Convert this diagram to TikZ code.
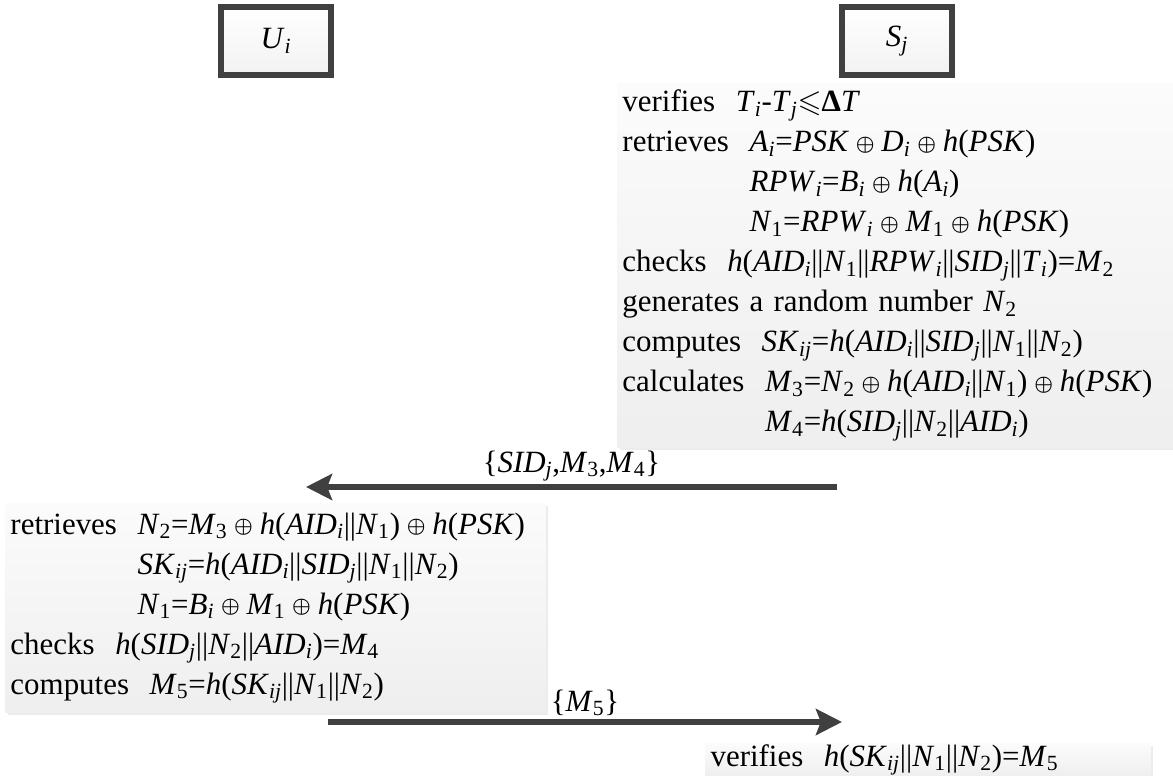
\documentclass[tikz,border=0pt]{standalone}
\usepackage{amssymb}
\usepackage{bm}
\usepackage{fontspec}
\setmainfont{Liberation Serif}
\usetikzlibrary{
    arrows.meta,
    shadows,
}
\tikzset{
    % Party boxes
    party/.style={rectangle, draw=black!75, line width=3.8pt,
                  top color=white, bottom color=gray!10,
                  drop shadow={shadow xshift=2pt, shadow yshift=-2pt, opacity=0.2},
                  minimum width=2.75cm, minimum height=1.7cm},
    % Computation panels
    panel/.style={rectangle, top color=gray!3, bottom color=gray!13,
                  drop shadow={shadow xshift=2pt, shadow yshift=-2pt, opacity=0.15},
                  align=left, anchor=north west, inner xsep=0.13cm},
    % Message arrows
    msg/.style={draw=black!75, line width=0.16cm,
                -{Stealth[length=0.65cm, width=0.65cm, inset=0.12cm]}},
    msg label/.style={above, inner sep=2pt},
}
\newcommand{\vi}[2]{\textit{#1}\textsubscript{\textit{#2}}}
\newcommand{\vn}[2]{\textit{#1}\textsubscript{#2}}
\newcommand{\xo}{\nobreak\hspace{0.22em}\raisebox{0.1ex}{\scalebox{0.72}{$\bm\oplus$}}\nobreak\hspace{0.22em}}
\newcommand{\hf}{\textit{h}}
\newcommand{\cc}{\textbar\textbar}

\begin{document}
\begin{tikzpicture}[x=0.025cm, y=-0.025cm,
    every node/.style={font=\fontsize{22}{28.45}\selectfont},
]
    \useasboundingbox (0,0) rectangle (1173,776);

    % Parties
    \node[party] (ui) at (276,41) {\vi{U}{i}};
    \node[party] (sj) at (897,41) {\vi{S}{j}};

    % Server side
    \node[panel, minimum width=13.9cm, minimum height=9.1cm, text width=13.64cm]
        (sjcalc) at (617,83) {%
        verifies~~\vi{T}{i}-\vi{T}{j}$\leqslant$\textbf{Δ}\textit{T}\\
        retrieves~~\vi{A}{i}=\textit{PSK}\xo\vi{D}{i}\xo\hf(\textit{PSK})\\
        \hphantom{retrieves~~}\vi{RPW}{i}=\vi{B}{i}\xo\hf(\vi{A}{i})\\
        \hphantom{retrieves~~}\vn{N}{1}=\vi{RPW}{i}\xo\vn{M}{1}\xo\hf(\textit{PSK})\\
        checks~~\hf(\vi{AID}{i}\cc\vn{N}{1}\cc\vi{RPW}{i}\cc\vi{SID}{j}\cc\vi{T}{i})=\vn{M}{2}\\
        generates a random number \vn{N}{2}\\
        computes~~\vi{SK}{ij}=\hf(\vi{AID}{i}\cc\vi{SID}{j}\cc\vn{N}{1}\cc\vn{N}{2})\\
        calculates~~\vn{M}{3}=\vn{N}{2}\xo\hf(\vi{AID}{i}\cc\vn{N}{1})\xo\hf(\textit{PSK})\\
        \hphantom{calculates~~}\vn{M}{4}=\hf(\vi{SID}{j}\cc\vn{N}{2}\cc\vi{AID}{i})};

    % Message 1
    \coordinate (sj out) at (837,487);
    \coordinate (ui in) at (306,487);
    \draw[msg] (sj out) -- (ui in)
        node[msg label, midway] {\{\vi{SID}{j},\vn{M}{3},\vn{M}{4}\}};

    % User side
    \node[panel, minimum width=13.5cm, minimum height=5.225cm, text width=13.24cm]
        (uicalc) at (5,503) {%
        retrieves~~\vn{N}{2}=\vn{M}{3}\xo\hf(\vi{AID}{i}\cc\vn{N}{1})\xo\hf(\textit{PSK})\\
        \hphantom{retrieves~~}\vi{SK}{ij}=\hf(\vi{AID}{i}\cc\vi{SID}{j}\cc\vn{N}{1}\cc\vn{N}{2})\\
        \hphantom{retrieves~~}\vn{N}{1}=\vi{B}{i}\xo\vn{M}{1}\xo\hf(\textit{PSK})\\
        checks~~\hf(\vi{SID}{j}\cc\vn{N}{2}\cc\vi{AID}{i})=\vn{M}{4}\\
        computes~~\vn{M}{5}=\hf(\vi{SK}{ij}\cc\vn{N}{1}\cc\vn{N}{2})};

    % Message 2
    \coordinate (ui out) at (328,722);
    \coordinate (sj in) at (842,722);
    \draw[msg] (ui out) -- (sj in)
        node[msg label, midway] {\{\vn{M}{5}\}};

    % Final check
    \node[panel, minimum width=11.125cm, minimum height=0.8cm, inner ysep=1pt,
          text width=10.86cm]
        (sjcheck) at (705,743) {%
        verifies~~\hf(\vi{SK}{ij}\cc\vn{N}{1}\cc\vn{N}{2})=\vn{M}{5}};
\end{tikzpicture}
\end{document}
